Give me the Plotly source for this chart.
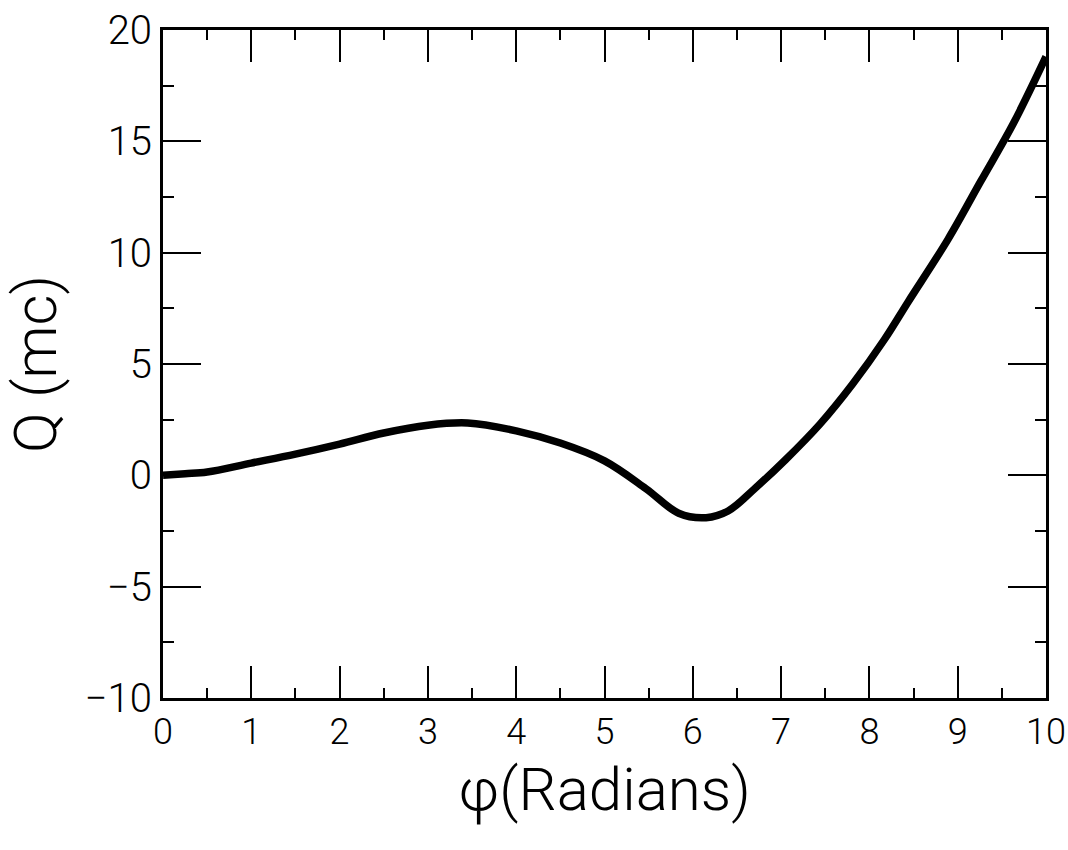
import plotly.graph_objects as go

# Charge Q (mc) as a function of phase angle phi (radians)
phi = [0.0, 0.25, 0.5, 1.0, 1.5, 2.0, 2.5, 3.0, 3.45, 4.0, 4.5, 5.0, 5.47,
       5.84, 6.15, 6.4, 6.7, 7.05, 7.44, 7.81, 8.17, 8.44, 8.89, 9.26, 9.63, 10.0]
charge = [0.0, 0.07, 0.15, 0.55, 0.95, 1.4, 1.9, 2.25, 2.35, 2.0, 1.45, 0.65, -0.6,
          -1.7, -1.9, -1.6, -0.6, 0.7, 2.3, 4.1, 6.1, 7.8, 10.6, 13.2, 15.8, 18.8]

x_ticks = [0, 1, 2, 3, 4, 5, 6, 7, 8, 9, 10]
x_labels = [str(v) for v in x_ticks]
y_ticks = [-10, -5, 0, 5, 10, 15, 20]
y_labels = ["\u221210", "\u22125", "0", "5", "10", "15", "20"]

font_family = "Roboto, Liberation Sans, DejaVu Sans, sans-serif"
x_tick_font = dict(family=font_family, size=36, color="black", weight=300)
y_tick_font = dict(family=font_family, size=40, color="black", weight=300)
title_font = dict(family=font_family, size=60, color="black", weight=300)

fig = go.Figure()
fig.add_trace(go.Scatter(
    x=phi, y=charge, mode="lines",
    line=dict(color="black", width=7.5, shape="spline", smoothing=1.0),
    hoverinfo="skip", showlegend=False,
))

fig.update_xaxes(
    range=[0, 10], tickvals=x_ticks, ticktext=x_labels,
    ticks="inside", ticklen=32, tickwidth=2, tickcolor="black",
    minor=dict(dtick=0.5, tick0=0, ticks="inside", ticklen=10, tickwidth=2, tickcolor="black"),
    showline=True, linecolor="black", linewidth=3, mirror="ticks",
    showgrid=False, zeroline=False, ticklabeloverflow="allow", automargin=False,
    tickfont=x_tick_font,
    title=dict(text="\u03c6(Radians)", font=title_font, standoff=16),
)
fig.update_yaxes(
    range=[-10, 20], tickvals=y_ticks, ticktext=y_labels,
    ticks="inside", ticklen=38, tickwidth=1.5, tickcolor="black",
    minor=dict(dtick=2.5, tick0=0, ticks="inside", ticklen=11, tickwidth=1.5, tickcolor="black"),
    showline=True, linecolor="black", linewidth=3, mirror="ticks",
    showgrid=False, zeroline=False, automargin=False,
    tickfont=y_tick_font,
    title=dict(text="Q (mc)", font=title_font, standoff=14),
)

fig.update_layout(
    width=1068, height=850,
    margin=dict(l=163, r=22, t=30, b=152),
    paper_bgcolor="white", plot_bgcolor="white",
)

fig.write_html("out.html")
